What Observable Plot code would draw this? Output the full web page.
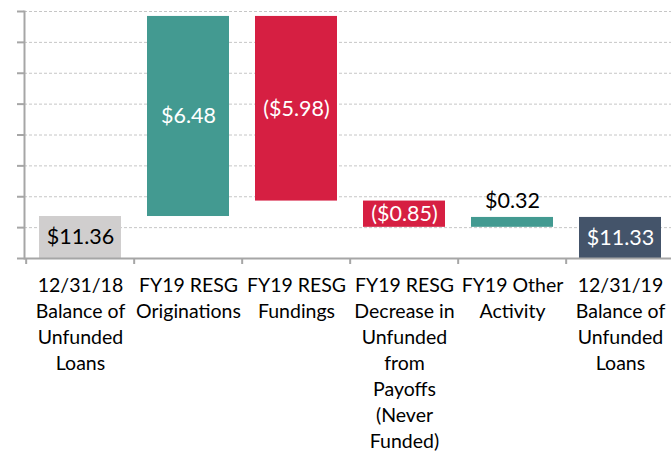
<!DOCTYPE html>
<html><head><meta charset="utf-8">
<script src="https://cdn.jsdelivr.net/npm/d3@7"></script>
<script src="https://cdn.jsdelivr.net/npm/@observablehq/plot@0.6"></script>
<style>html,body{margin:0;padding:0;background:#fff;overflow:hidden}</style>
</head><body><div id="chart"></div>
<script>
const categories = [
  "12/31/18\nBalance of\nUnfunded\nLoans",
  "FY19 RESG\nOriginations",
  "FY19 RESG\nFundings",
  "FY19 RESG\nDecrease in\nUnfunded\nfrom\nPayoffs\n(Never\nFunded)",
  "FY19 Other\nActivity",
  "12/31/19\nBalance of\nUnfunded\nLoans"
];
const values = [11.36, 6.48, -5.98, -0.85, 0.32, 11.33];
const kinds = ["start", "increase", "decrease", "decrease", "increase", "end"];
const barColors = {start: "#d0cece", increase: "#439a91", decrease: "#d61f42", end: "#44546a"};
const labelColors = {start: "#000000", increase: "#ffffff", decrease: "#ffffff", end: "#ffffff"};
const yTicks = [10, 11, 12, 13, 14, 15, 16, 17, 18];
const yMin = 10, yMax = 18;

let run = 0;
const data = categories.map((c, i) => {
  const v = values[i], k = kinds[i];
  let y1, y2;
  if (k === "start" || k === "end") { y1 = 0; y2 = v; run = v; }
  else { y1 = run; y2 = run + v; run = y2; }
  const lo = Math.max(Math.min(y1, y2), yMin), hi = Math.max(y1, y2);
  const above = (hi - lo) < 0.5;
  return {
    cat: c, value: v, kind: k, y1, y2,
    ly: above ? hi : (lo + hi) / 2,
    above,
    label: (v < 0 ? "($" + Math.abs(v).toFixed(2) + ")" : "$" + v.toFixed(2)),
    lcolor: above ? "#000000" : labelColors[k]
  };
});

const W = 671, H = 452;
const xRange = [24, 676];
const step = (xRange[1] - xRange[0]) / categories.length;
const font = "Lato, 'Open Sans', sans-serif";
const axisColor = "#a6a6a6";

const chart = Plot.plot({
  width: W, height: H,
  marginLeft: 24, marginRight: 0, marginTop: 11, marginBottom: 194,
  style: {fontFamily: font, background: "#fff", overflow: "hidden"},
  x: {domain: categories, range: xRange, paddingInner: 0.245, paddingOuter: 0.1225, axis: null, label: null},
  y: {domain: [yMin, yMax], axis: null, label: null},
  marks: [
    Plot.gridY(yTicks, {stroke: "#c6c6c6", strokeOpacity: 1, strokeDasharray: "3,2", strokeWidth: 1}),
    Plot.barY(data, {x: "cat", y1: "y1", y2: "y2", fill: d => barColors[d.kind], clip: true}),
    Plot.text(data.filter(d => !d.above), {x: "cat", y: "ly", text: "label", fill: "lcolor", fontSize: 21.5, textAnchor: "middle", lineAnchor: "middle"}),
    Plot.text(data.filter(d => d.above), {x: "cat", y: "ly", text: "label", fill: "lcolor", fontSize: 21.5, textAnchor: "middle", lineAnchor: "bottom", dy: -9}),
    Plot.ruleY([yMin], {stroke: axisColor, strokeWidth: 2}),
    Plot.frame({anchor: "left", stroke: axisColor, strokeWidth: 2}),
    Plot.axisY(yTicks, {tickSize: 7, tickFormat: () => "", label: null, stroke: axisColor, strokeWidth: 2}),
    Plot.axisX(categories, {tickSize: 6, tickFormat: () => "", label: null, dx: -step / 2, stroke: axisColor, strokeWidth: 2}),
    Plot.text(categories, {x: d => d, frameAnchor: "bottom", text: d => d, lineAnchor: "top", dy: 15, fontSize: 19.5, lineHeight: 1.33, fill: "#000", textAnchor: "middle"})
  ]
});
document.getElementById("chart").appendChild(chart);
</script>
</body></html>
